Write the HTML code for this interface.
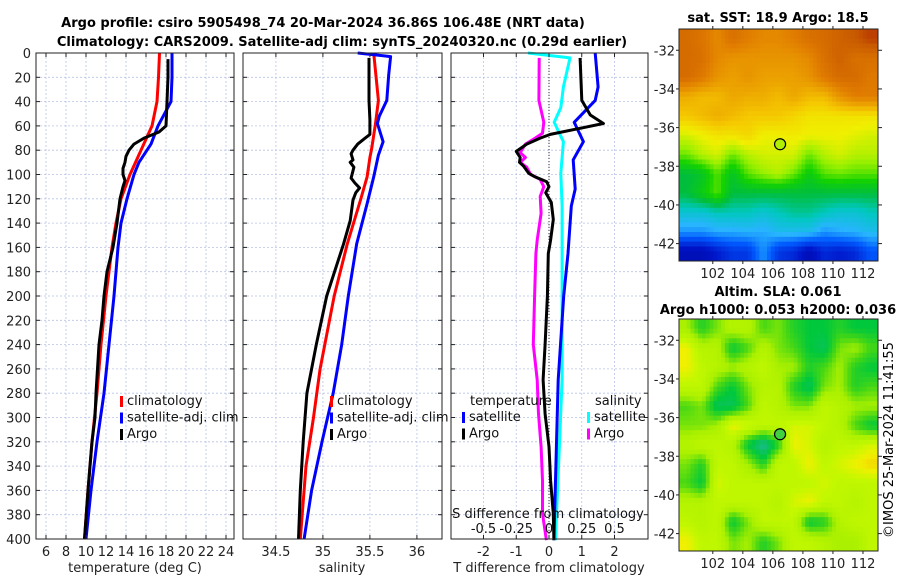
<!DOCTYPE html>
<html><head><meta charset="utf-8"><style>
html,body{margin:0;padding:0;background:#fff;}
svg{display:block;font-family:"DejaVu Sans","Liberation Sans",sans-serif;}
</style></head><body>
<svg id="fig" width="900" height="580" viewBox="0 0 900 580" xmlns="http://www.w3.org/2000/svg">
<rect width="900" height="580" fill="#fff"/>
<text x="323" y="27" font-size="13" font-weight="bold" text-anchor="middle">Argo profile: csiro 5905498_74 20-Mar-2024 36.86S 106.48E (NRT data)</text>
<text x="342" y="46" font-size="13" font-weight="bold" text-anchor="middle">Climatology: CARS2009. Satellite-adj clim: synTS_20240320.nc (0.29d earlier)</text>
<text x="778" y="22" font-size="13" font-weight="bold" text-anchor="middle">sat. SST: 18.9 Argo: 18.5</text>
<text x="778" y="296" font-size="13" font-weight="bold" text-anchor="middle">Altim. SLA: 0.061</text>
<text x="778" y="314" font-size="13" font-weight="bold" text-anchor="middle">Argo h1000: 0.053 h2000: 0.036</text>
<text transform="translate(893,440) rotate(-90)" font-size="13" text-anchor="middle">©IMOS 25-Mar-2024 11:41:55</text>
<g id="plots"></g>
</svg>
<script>
// ---------- data ----------
const depthTicks = [0,20,40,60,80,100,120,140,160,180,200,220,240,260,280,300,320,340,360,380,400];
const tempTicks = [6,8,10,12,14,16,18,20,22,24];
const salTicks = [34.5,35,35.5,36];
const salTickLabels = ["34.5","35","35.5","36"];
const tdiffTicks = [-2,-1,0,1,2];
const sdiffTicks = [-0.5,-0.25,0,0.25,0.5];
const sdiffTickLabels = ["-0.5","-0.25","0","0.25","0.5"];

const tClimDepth = [0,20,40,60,80,100,120,140,160,200,240,280,320,360,400];
const tClim      = [17.35,17.25,17.1,16.6,15.5,14.4,13.5,13.0,12.6,12.0,11.5,11.1,10.6,10.2,9.85];
const tSatDepth  = [0,20,40,60,75,90,100,120,140,160,200,240,280,320,360,400];
const tSat       = [18.6,18.6,18.5,17.2,16.5,15.3,14.8,14.1,13.5,13.2,12.8,12.3,11.8,11.1,10.5,10.0];
const tArgoDepth = [5,20,40,60,65,70,75,80,85,90,95,100,105,110,120,140,160,180,200,220,240,280,300,320,360,400];
const tArgo      = [18.2,18.2,18.1,18.0,17.3,15.8,14.8,14.3,14.0,13.9,13.7,13.7,13.9,13.7,13.4,13.1,12.7,12.1,11.8,11.6,11.3,11.0,10.9,10.6,10.2,9.85];

const sClimDepth = [0,39,58,78,86,102,121,157,200,260,300,340,400];
const sClim      = [35.54,35.59,35.56,35.52,35.5,35.47,35.4,35.26,35.12,34.97,34.9,34.82,34.76];
const sSatDepth  = [0,3,18,39,52,58,73,84,102,124,157,200,240,280,320,360,400];
const sSat       = [35.37,35.72,35.70,35.68,35.6,35.58,35.64,35.59,35.54,35.47,35.36,35.27,35.2,35.11,34.99,34.88,34.8];
const sArgoDepth = [4,39,55,67,70,75,80,83,88,90,94,103,107,111,115,121,138,157,200,240,280,320,360,400];
const sArgo      = [35.49,35.49,35.5,35.5,35.45,35.37,35.32,35.3,35.32,35.29,35.33,35.3,35.34,35.39,35.35,35.32,35.29,35.22,35.04,34.93,34.83,34.79,34.76,34.74];

const dTArgoDepth = [4,39,51,58,62,67,70,75,81,86,90,93,99,102,106,110,115,123,137,154,165,200,240,269,297,324,352,379,401];
const dTArgo      = [0.95,1.0,1.26,1.66,0.95,0.04,-0.27,-0.68,-1.0,-0.88,-0.9,-0.78,-0.62,-0.42,-0.07,0.0,-0.1,0.07,0.13,0.05,-0.02,-0.05,-0.12,-0.18,-0.12,0.0,0.05,0.13,0.15];
const dTSatDepth  = [0,28,39,57,73,88,112,126,165,200,269,401];
const dTSat       = [1.41,1.5,1.41,0.77,1.05,0.74,0.8,0.68,0.58,0.45,0.28,0.15];
const dSArgoDepth = [4,39,57,66,70,75,82,86,90,94,100,104,110,118,132,154,165,200,240,269,297,324,352,379,401];
const dSArgo      = [-0.075,-0.077,-0.04,-0.05,-0.105,-0.18,-0.22,-0.18,-0.22,-0.17,-0.14,-0.067,-0.04,-0.067,-0.06,-0.09,-0.1,-0.11,-0.12,-0.09,-0.08,-0.06,-0.05,-0.05,-0.02];
const dSSatDepth  = [0,4,28,45,57,73,99,126,165,269,401];
const dSSat       = [-0.16,0.16,0.11,0.09,0.04,0.11,0.09,0.1,0.1,0.1,0.05];

const lonTicks = [102,104,106,108,110,112];
const latTicks = [-32,-34,-36,-38,-40,-42];
const argoLon = 106.48, argoLat = -36.86;
const sstGrid = [
[0.86,0.84,0.8,0.85,0.82,0.8,0.8,0.82,0.85,0.86,0.88,0.9,0.93],
[0.86,0.85,0.8,0.78,0.78,0.78,0.78,0.78,0.8,0.85,0.88,0.85,0.85],
[0.86,0.83,0.78,0.76,0.78,0.76,0.76,0.76,0.78,0.83,0.86,0.86,0.83],
[0.74,0.72,0.72,0.75,0.74,0.74,0.72,0.75,0.72,0.72,0.78,0.82,0.82],
[0.7,0.72,0.74,0.72,0.7,0.7,0.7,0.68,0.66,0.66,0.66,0.66,0.66],
[0.62,0.64,0.66,0.66,0.68,0.64,0.64,0.65,0.64,0.64,0.64,0.63,0.62],
[0.56,0.6,0.62,0.56,0.6,0.62,0.62,0.62,0.56,0.6,0.62,0.6,0.6],
[0.46,0.48,0.55,0.48,0.55,0.58,0.6,0.56,0.5,0.55,0.56,0.55,0.55],
[0.46,0.5,0.55,0.46,0.46,0.46,0.46,0.46,0.46,0.46,0.46,0.46,0.46],
[0.38,0.38,0.4,0.4,0.4,0.38,0.4,0.42,0.42,0.4,0.38,0.38,0.4],
[0.3,0.3,0.32,0.32,0.33,0.32,0.35,0.35,0.35,0.3,0.32,0.33,0.35],
[0.12,0.12,0.16,0.2,0.2,0.3,0.2,0.18,0.12,0.18,0.16,0.18,0.24]];
const slaGrid = [
[0.6,0.45,0.55,0.65,0.65,0.5,0.55,0.45,0.4,0.4,0.45,0.4,0.4],
[0.8,0.65,0.65,0.4,0.5,0.65,0.55,0.5,0.4,0.35,0.55,0.6,0.5],
[0.8,0.7,0.65,0.6,0.65,0.7,0.6,0.6,0.45,0.5,0.6,0.45,0.4],
[0.7,0.7,0.5,0.4,0.55,0.65,0.65,0.45,0.35,0.55,0.6,0.45,0.5],
[0.5,0.55,0.35,0.35,0.5,0.7,0.65,0.55,0.55,0.7,0.65,0.6,0.6],
[0.55,0.55,0.6,0.8,0.75,0.7,0.7,0.75,0.75,0.7,0.65,0.5,0.4],
[0.65,0.7,0.7,0.65,0.4,0.25,0.45,0.8,0.75,0.65,0.7,0.7,0.75],
[0.55,0.45,0.7,0.7,0.6,0.45,0.7,0.7,0.8,0.7,0.75,0.8,0.85],
[0.5,0.4,0.75,0.7,0.7,0.7,0.7,0.7,0.7,0.75,0.7,0.7,0.7],
[0.65,0.65,0.7,0.7,0.7,0.7,0.65,0.75,0.8,0.7,0.7,0.65,0.7],
[0.7,0.65,0.7,0.4,0.55,0.7,0.7,0.7,0.4,0.45,0.65,0.7,0.7],
[0.8,0.7,0.7,0.55,0.6,0.45,0.55,0.7,0.7,0.65,0.6,0.6,0.7]];

// ---------- drawing ----------
const NS = "http://www.w3.org/2000/svg";
const root = document.getElementById('plots');
function el(tag, attrs, parent){ const e=document.createElementNS(NS,tag); for(const k in attrs) e.setAttribute(k,attrs[k]); (parent||root).appendChild(e); return e; }
function txt(s, attrs, parent){ const t=el('text',attrs,parent); t.textContent=s; return t; }

const Y0=53, Y1=539;
const yD = d => Y0 + d*(Y1-Y0)/400;
const xT = v => 36 + (v-5)*10.0;
const xS = v => 243 + (v-34.15)*94;
const xDT = v => 549 + v*32.75;
const xDS = v => 549 + v*131;

function panel(name){
  const g = el('g',{});
  
  
  return g;
}
function frame(g,x0,x1,xticks,xfn){
  depthTicks.forEach(d=>{
    const l=el('line',{x1:x0,x2:x1,y1:yD(d),y2:yD(d),stroke:'#b8c4e8','stroke-width':0.8,'stroke-dasharray':'2,2'},g);
    
    
  });
  xticks.forEach(v=>{
    const l=el('line',{x1:xfn(v),x2:xfn(v),y1:Y0,y2:Y1,stroke:'#b8c4e8','stroke-width':0.8,'stroke-dasharray':'2,2'},g);
    
    
  });
}
function ticksAndBox(g,x0,x1,xticks,xfn){
  depthTicks.forEach(d=>{
    el('line',{x1:x0,x2:x0+4,y1:yD(d),y2:yD(d),stroke:'#222'},g);
    el('line',{x1:x1,x2:x1-4,y1:yD(d),y2:yD(d),stroke:'#222'},g);
  });
  xticks.forEach(v=>{
    el('line',{x1:xfn(v),x2:xfn(v),y1:Y1,y2:Y1-4,stroke:'#222'},g);
    el('line',{x1:xfn(v),x2:xfn(v),y1:Y0,y2:Y0+4,stroke:'#222'},g);
  });
  const r=el('rect',{x:x0,y:Y0,width:x1-x0,height:Y1-Y0,fill:'none',stroke:'#222','stroke-width':1},g);
  
  
}
function line(g,xs,ds,xfn,color,name,w){
  const pts = xs.map((v,i)=>xfn(v).toFixed(1)+','+yD(ds[i]).toFixed(1)).join(' ');
  const p = el('polyline',{points:pts,fill:'none',stroke:color,'stroke-width':w||3,'stroke-linejoin':'round'},g);
  
  
}
function legend(g,x,y,items){
  items.forEach((it,i)=>{
    const m=el('rect',{x:x,y:y+i*16.5-9,width:3,height:11,fill:it[1]},g);
    
    
    const t=txt(it[0],{x:x+7,y:y+i*16.5,'font-size':13,fill:'#111'},g);
    
    
  });
}

depthTicks.forEach(d=>{
  const t=txt(String(d),{x:31,y:yD(d)+5,'font-size':13,'text-anchor':'end',fill:'#222'});
  
  
});

// Panel 1 temperature
const g1=panel('temperature-panel');
frame(g1,36,234,tempTicks,xT);
line(g1,tClim,tClimDepth,xT,'#ff0000','temp-climatology-line');
line(g1,tSat,tSatDepth,xT,'#0000ff','temp-satellite-line');
line(g1,tArgo,tArgoDepth,xT,'#000000','temp-argo-line');
ticksAndBox(g1,36,234,tempTicks,xT);
tempTicks.forEach(v=>{ const t=txt(String(v),{x:xT(v),y:556,'font-size':13,'text-anchor':'middle',fill:'#222'},g1);
    });
const xl1=txt('temperature (deg C)',{x:135,y:572,'font-size':13,'text-anchor':'middle',fill:'#222'},g1);
 
legend(g1,120,405,[['climatology','#ff0000'],['satellite-adj. clim','#0000ff'],['Argo','#000']]);

// Panel 2 salinity
const g2=panel('salinity-panel');
frame(g2,243,442,salTicks,xS);
line(g2,sClim,sClimDepth,xS,'#ff0000','sal-climatology-line');
line(g2,sSat,sSatDepth,xS,'#0000ff','sal-satellite-line');
line(g2,sArgo,sArgoDepth,xS,'#000000','sal-argo-line');
ticksAndBox(g2,243,442,salTicks,xS);
salTicks.forEach((v,i)=>{ const t=txt(salTickLabels[i],{x:xS(v),y:556,'font-size':13,'text-anchor':'middle',fill:'#222'},g2);
    });
const xl2=txt('salinity',{x:342,y:572,'font-size':13,'text-anchor':'middle',fill:'#222'},g2);
 
legend(g2,330,405,[['climatology','#ff0000'],['satellite-adj. clim','#0000ff'],['Argo','#000']]);

// Panel 3 differences
const g3=panel('difference-panel');
frame(g3,451,648,tdiffTicks,xDT);
const zl=el('line',{x1:xDT(0),x2:xDT(0),y1:Y0,y2:Y1,stroke:'#333','stroke-width':1,'stroke-dasharray':'1,2'},g3);
 
line(g3,dSSat,dSSatDepth,xDS,'#00ffff','sal-diff-satellite-line');
line(g3,dTSat,dTSatDepth,xDT,'#0000ff','temp-diff-satellite-line');
line(g3,dSArgo,dSArgoDepth,xDS,'#ff00ff','sal-diff-argo-line');
line(g3,dTArgo,dTArgoDepth,xDT,'#000000','temp-diff-argo-line');
ticksAndBox(g3,451,648,tdiffTicks,xDT);
tdiffTicks.forEach(v=>{ const t=txt(String(v),{x:xDT(v),y:556,'font-size':13,'text-anchor':'middle',fill:'#222'},g3);
    });
sdiffTicks.forEach((v,i)=>{ const t=txt(sdiffTickLabels[i],{x:xDS(v),y:533,'font-size':13,'text-anchor':'middle',fill:'#111'},g3);
    });
const xl3=txt('T difference from climatology',{x:549,y:572,'font-size':13,'text-anchor':'middle',fill:'#222'},g3);
 
const xl4=txt('S difference from climatology',{x:548,y:518,'font-size':13,'text-anchor':'middle',fill:'#111'},g3);
 
const lt=txt('temperature',{x:470,y:405,'font-size':13,fill:'#111'},g3);
 
const ls=txt('salinity',{x:595,y:405,'font-size':13,fill:'#111'},g3);
 
legend(g3,462,421,[['satellite','#0000ff'],['Argo','#000']]);
legend(g3,587,421,[['satellite','#00ffff'],['Argo','#ff00ff']]);

// ---------- maps ----------
function interp(stops,v){
  if(v<=stops[0][0]) return 'rgb('+stops[0][1].join(',')+')';
  for(let i=1;i<stops.length;i++){ if(v<=stops[i][0]){ const a=stops[i-1],b=stops[i],t=(v-a[0])/(b[0]-a[0]);
    return 'rgb('+[0,1,2].map(k=>Math.round(a[1][k]+(b[1][k]-a[1][k])*t)).join(',')+')'; } }
  return 'rgb('+stops[stops.length-1][1].join(',')+')';
}
function sampleGrid(grid,fr,fc){
  const R=grid.length, C=grid[0].length;
  const r=Math.min(Math.max(fr-0.5,0),R-1), c=Math.min(Math.max(fc-0.5,0),C-1);
  const r0=Math.floor(r), c0=Math.floor(c), r1=Math.min(r0+1,R-1), c1=Math.min(c0+1,C-1);
  const tr=r-r0, tc=c-c0;
  return grid[r0][c0]*(1-tr)*(1-tc)+grid[r0][c1]*(1-tr)*tc+grid[r1][c0]*tr*(1-tc)+grid[r1][c1]*tr*tc;
}
const sstStops=[[0,[0,0,120]],[0.15,[0,20,200]],[0.25,[0,90,255]],[0.33,[40,180,255]],[0.4,[0,200,190]],[0.46,[0,190,60]],[0.52,[20,210,0]],[0.58,[150,240,0]],[0.64,[240,240,0]],[0.7,[245,200,0]],[0.76,[235,160,0]],[0.82,[225,125,0]],[0.9,[200,90,0]],[1,[160,0,0]]];
const slaStops=[[0.2,[0,200,180]],[0.3,[20,190,120]],[0.4,[0,200,60]],[0.5,[70,215,20]],[0.6,[170,240,0]],[0.72,[195,248,0]],[0.8,[240,240,0]],[0.9,[245,190,0]],[1,[240,140,0]]];
function map(name,top,bottom,grid,stops,circleFill){
  const L=679,R=878,lonL=99.75,pxLon=(R-L)/(113.0-99.75);
  const latTop=-30.9, pxLat=(bottom-top)/12;
  const xLon=v=>L+(v-lonL)*pxLon, yLat=v=>top+(latTop-v)*pxLat;
  const g=el('g',{});
  
  
  const SUB=4;
  const nR=grid.length*SUB, nC=grid[0].length*SUB;
  const cw=(R-L)/nC, ch=(bottom-top)/nR;
  for(let r=0;r<nR;r++) for(let c=0;c<nC;c++){
    const v=sampleGrid(grid,(r+0.5)/SUB,(c+0.5)/SUB);
    const cell=el('rect',{x:(L+c*cw).toFixed(2),y:(top+r*ch).toFixed(2),width:(cw+0.5).toFixed(2),height:(ch+0.5).toFixed(2),fill:interp(stops,v)},g);
    
    
  }
  el('rect',{x:L,y:top,width:R-L,height:bottom-top,fill:'none',stroke:'#222'},g);
  latTicks.forEach(v=>{ el('line',{x1:R,x2:R+4,y1:yLat(v),y2:yLat(v),stroke:'#222'},g);
    el('line',{x1:L,x2:L-3,y1:yLat(v),y2:yLat(v),stroke:'#222'},g);
    const t=txt(String(v),{x:L-4,y:yLat(v)+5,'font-size':13,'text-anchor':'end',fill:'#222'},g);
      });
  lonTicks.forEach(v=>{ el('line',{x1:xLon(v),x2:xLon(v),y1:top,y2:top-3,stroke:'#222'},g);
    el('line',{x1:xLon(v),x2:xLon(v),y1:bottom,y2:bottom+3,stroke:'#222'},g);
    const t=txt(String(v),{x:xLon(v),y:bottom+17,'font-size':13,'text-anchor':'middle',fill:'#222'},g);
      });
  const c=el('circle',{cx:xLon(argoLon),cy:yLat(argoLat),r:5.5,fill:circleFill,stroke:'#000','stroke-width':1.2},g);
  
  
}
map('sst-map',29,261,sstGrid,sstStops,'#b0f000');
map('sla-map',319,551,slaGrid,slaStops,'#40d040');
</script>
</body></html>
